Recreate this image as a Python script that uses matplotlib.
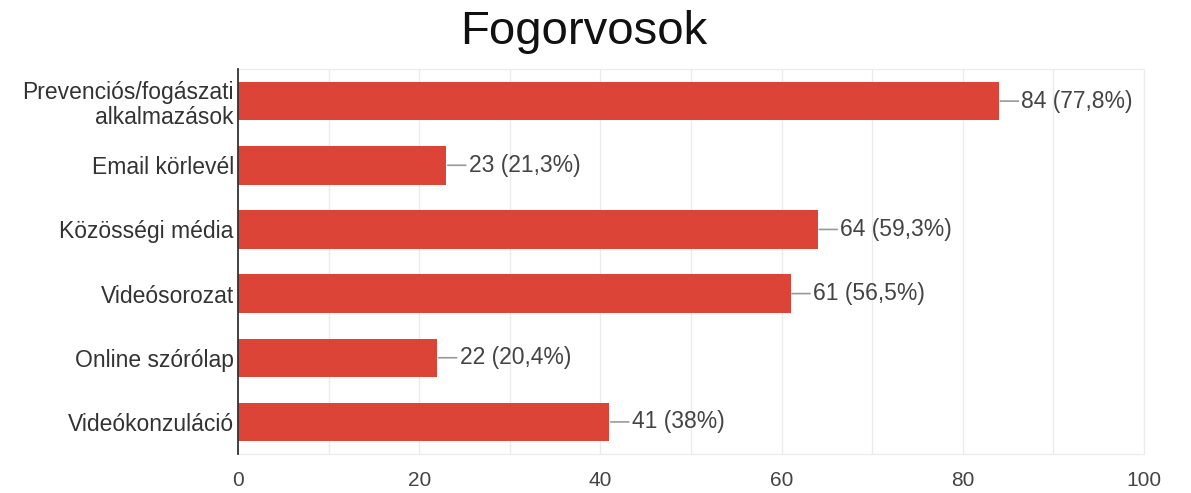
import matplotlib.pyplot as plt

# data
categories = ['Prevenciós/fogászati\nalkalmazások', 'Email körlevél', 'Közösségi média',
              'Videósorozat', 'Online szórólap', 'Videókonzuláció']
counts = [84, 23, 64, 61, 22, 41]
labels = ['84 (77,8%)', '23 (21,3%)', '64 (59,3%)', '61 (56,5%)', '22 (20,4%)', '41 (38%)']
xticks = [0, 20, 40, 60, 80, 100]

plt.rcParams['font.family'] = ['Liberation Sans', 'DejaVu Sans']

fig = plt.figure(figsize=(11.91, 4.93), dpi=100)
ax = fig.add_axes([0.1998, 0.0791, 0.7607, 0.7809])

ypos = list(range(len(categories)))
ax.barh(ypos, counts, height=0.6, color='#db4437', zorder=3)

for y, v, lab in zip(ypos, counts, labels):
    ax.annotate(lab, xy=(v, y), xytext=(16, 0), textcoords='offset points',
                ha='left', va='center', fontsize=16.5, color='#444444',
                arrowprops=dict(arrowstyle='-', color='#999999', lw=1.2,
                                shrinkA=0, shrinkB=1))

ax.set_xlim(0, 100)
ax.set_ylim(len(categories) - 0.5, -0.5)
ax.set_xticks(xticks)
ax.set_xticks(range(0, 101, 10), minor=True)
ax.set_yticks(ypos)
ax.set_yticklabels(categories, fontsize=16.5, color='#333333', linespacing=1.15)
ax.tick_params(axis='y', length=0, pad=3)
ax.tick_params(axis='x', length=0, pad=12, labelsize=15, labelcolor='#444444')
ax.tick_params(axis='x', which='minor', length=0)
ax.grid(axis='x', which='both', color='#ebebeb', lw=1, zorder=0)

for s in ['top', 'right', 'bottom']:
    ax.spines[s].set_color('#ebebeb')
ax.spines['left'].set_color('#333333')
ax.spines['left'].set_linewidth(1.3)
ax.spines['left'].set_zorder(4)

fig.text(0.4905, 0.935, 'Fogorvosok', ha='center', va='center', fontsize=34, color='#111111')

fig.savefig('out.png', dpi=100)
